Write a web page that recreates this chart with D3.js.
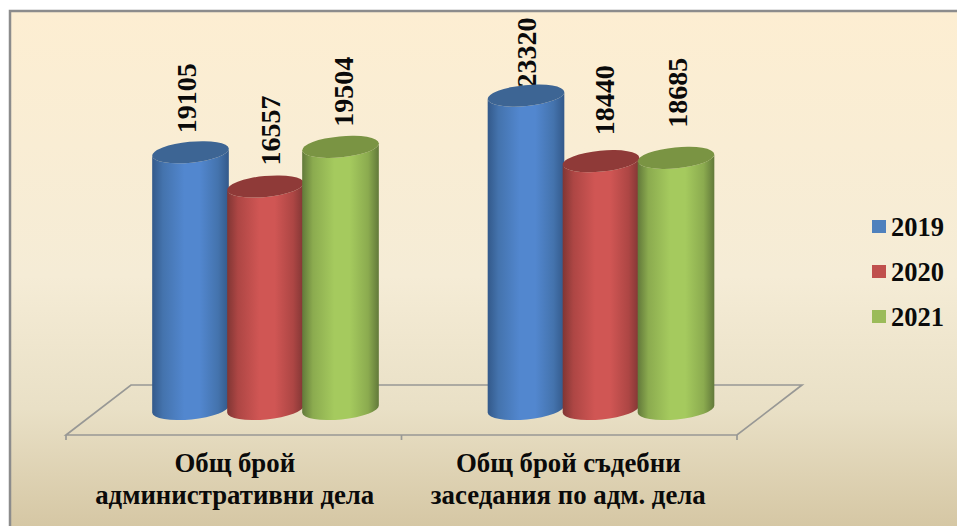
<!DOCTYPE html>
<html>
<head>
<meta charset="utf-8">
<script src="https://cdn.jsdelivr.net/npm/d3@7"></script>
<style>
    html, body { margin: 0; padding: 0; background: #fff; overflow: hidden; }
    text { font-family: "Liberation Serif", serif; font-weight: bold; fill: #0a0a0a; }
</style>
</head>
<body>
<svg id="chart" width="957" height="526"></svg>
<script>
const categories = [
    ["Общ брой", "административни дела"],
    ["Общ брой съдебни", "заседания по адм. дела"]
];
const years = ["2019", "2020", "2021"];
const seriesValues = [
    [19105, 16557, 19504],
    [23320, 18440, 18685]
];
// dark edge, light centre
const seriesColors = [
    { edge: "#33598a", near: "#4473ad", mid: "#5287cf", top: "#3d6594", key: "#4f81bd" },
    { edge: "#803634", near: "#ad4644", mid: "#d05654", top: "#8f3a38", key: "#c0504d" },
    { edge: "#62793a", near: "#8bab4f", mid: "#a5ca5e", top: "#7a9443", key: "#9bbb59" }
];
// hand placed label offsets from the top of each bar, the source chart is not regular
const labelShiftX = [[5, 14, 12], [10, 13, 11]];
const labelShiftY = [[-19, -21, -20], [-8, -26, -30]];

const svg = d3.select("#chart");
const defs = svg.append("defs");

let bg = defs.append("linearGradient")
    .attr("id", "bgGradient")
    .attr("x1", 0).attr("y1", 0).attr("x2", 0).attr("y2", 1);
bg.append("stop").attr("offset", "0%").attr("stop-color", "#fdeed2");
bg.append("stop").attr("offset", "50%").attr("stop-color", "#f5ecd6");
bg.append("stop").attr("offset", "75%").attr("stop-color", "#e9e0c6");
bg.append("stop").attr("offset", "100%").attr("stop-color", "#d3c4a0");

seriesColors.forEach((c, i) => {
    let g = defs.append("linearGradient").attr("id", `side-${i}`);
    g.append("stop").attr("offset", "0%").attr("stop-color", c.edge);
    g.append("stop").attr("offset", "14%").attr("stop-color", c.near);
    g.append("stop").attr("offset", "42%").attr("stop-color", c.mid);
    g.append("stop").attr("offset", "62%").attr("stop-color", c.mid);
    g.append("stop").attr("offset", "86%").attr("stop-color", c.near);
    g.append("stop").attr("offset", "100%").attr("stop-color", c.edge);
});

//background and the grey frame, only top and left show
svg.append("rect")
    .attr("x", 10).attr("y", 11)
    .attr("width", 960).attr("height", 530)
    .attr("fill", "url(#bgGradient)")
    .attr("stroke", "#8c8c8c")
    .attr("stroke-width", 2.5);

const baseY = 409;
const y = d3.scaleLinear().domain([0, 25000]).range([baseY, baseY - 336]);
const x0 = d3.scaleBand().domain([0, 1]).range([66, 737]);
const x1 = d3.scaleBand().domain([0, 1, 2]).range([87, 312]);

//floor
const floorFront = 435, floorBack = 385, floorSkew = 65;
const floorColor = "#989895";
svg.append("path")
    .attr("d", `M${x0.range()[0]},${floorFront} L${x0.range()[0] + floorSkew},${floorBack} L${x0.range()[1] + floorSkew},${floorBack} L${x0.range()[1]},${floorFront} Z`)
    .attr("fill", "none")
    .attr("stroke", floorColor)
    .attr("stroke-width", 1.7);
svg.selectAll(".tick-mark")
    .data([x0(0), x0(1), x0(1) + x0.bandwidth()])
    .join("line")
    .attr("class", "tick-mark")
    .attr("x1", d => d).attr("x2", d => d)
    .attr("y1", floorFront).attr("y2", floorFront + 5)
    .attr("stroke", floorColor)
    .attr("stroke-width", 1.7);

const rx = 38.5, ry = 10.5, tilt = -5.5;
const tiltRad = tilt * Math.PI / 180;
// half extents of the tilted ellipse's side points
const dy = rx * Math.sin(tiltRad);
const dx = rx * Math.cos(tiltRad);

function cylinderSide(cx, top) {
    return `M${cx - dx},${top - dy} L${cx - dx},${baseY - dy}`
        + ` A${rx},${ry} ${tilt} 0 0 ${cx + dx},${baseY + dy}`
        + ` L${cx + dx},${top + dy}`
        + ` A${rx},${ry} ${tilt} 0 1 ${cx - dx},${top - dy} Z`;
}

const groups = seriesValues.map((vals, c) => vals.map((v, s) => ({ c, s, v })));

groups.forEach((bars, c) => {
    let group = svg.append("g").attr("class", `cat-${c}`);
    let center = d => x0(d.c) + x1(d.s) + x1.bandwidth() / 2;

    //labels go first, the tall bar covers the foot of its number
    group.selectAll("text.value")
        .data(bars)
        .join("text")
        .attr("class", "value")
        .attr("transform", d => `translate(${center(d) + labelShiftX[d.c][d.s]},${y(d.v) + labelShiftY[d.c][d.s]}) rotate(-90)`)
        .attr("font-size", 28)
        .text(d => d.v);

    let cyl = group.selectAll("g.cyl")
        .data(bars)
        .join("g")
        .attr("class", "cyl");
    cyl.append("path")
        .attr("d", d => cylinderSide(center(d), y(d.v)))
        .attr("fill", d => `url(#side-${d.s})`);
    cyl.append("ellipse")
        .attr("cx", d => center(d))
        .attr("cy", d => y(d.v))
        .attr("rx", rx).attr("ry", ry)
        .attr("transform", d => `rotate(${tilt} ${center(d)} ${y(d.v)})`)
        .attr("fill", d => seriesColors[d.s].top);

    //category label
    let lab = svg.append("text")
        .attr("text-anchor", "middle")
        .attr("font-size", 26.8);
    categories[c].forEach((line, i) => {
        lab.append("tspan")
            .attr("x", x0(c) + x0.bandwidth() / 2 + (c == 0 ? 1 : -1))
            .attr("y", 472 + i * 31.5)
            .text(line);
    });
});

//legend
const legendY = d3.scalePoint().domain(years).range([227, 317]);
let legend = svg.selectAll(".legend-item")
    .data(years)
    .join("g")
    .attr("class", "legend-item")
    .attr("transform", d => `translate(872,${legendY(d)})`);
legend.append("rect")
    .attr("y", -7).attr("width", 14).attr("height", 13)
    .attr("fill", (d, i) => seriesColors[i].key);
legend.append("text")
    .attr("x", 19).attr("y", 8.5)
    .attr("font-size", 26.5)
    .text(d => d);
</script>
</body>
</html>
